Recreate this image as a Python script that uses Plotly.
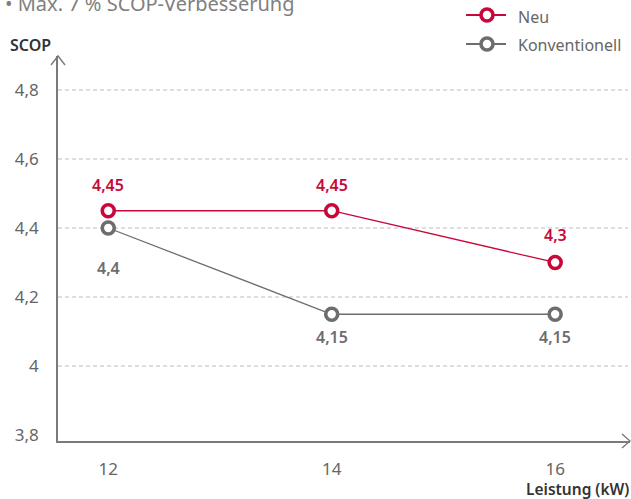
import plotly.graph_objects as go

# Leistung in kW and seasonal COP of both unit generations
leistung = [12, 14, 16]
scop_neu = [4.45, 4.45, 4.3]
scop_konv = [4.4, 4.15, 4.15]

y_tickvals = [3.8, 4.0, 4.2, 4.4, 4.6, 4.8]
y_ticktext = ["3,8", "4", "4,2", "4,4", "4,6", "4,8"]
x_tickvals = [12, 14, 16]
x_ticktext = ["12", "14", "16"]

series_names = ["Neu", "Konventionell"]

# vertical offset (px) of each value label relative to its marker
label_shift_neu = [26, 26, 27]
label_shift_konv = [-40, -23, -23]

RED = "#c8073b"
GRAY = "#6d6d6d"
AXIS = "#7a7a7a"
FONT = "Noto Sans"

W, H = 631, 499
L, R, T, B = 58, 1, 56, 58
PW, PH = W - L - R, H - T - B


def px_x(px):
    return (px - L) / PW


def px_y(py):
    return (H - B - py) / PH


def de(v):
    return f"{v:g}".replace(".", ",")


fig = go.Figure()

for name, vals, col in [(series_names[0], scop_neu, RED), (series_names[1], scop_konv, GRAY)]:
    fig.add_trace(go.Scatter(
        x=leistung, y=vals, name=name, mode="lines+markers",
        line=dict(color=col, width=1.3),
        marker=dict(symbol="circle", size=12, color="white",
                    line=dict(color=col, width=3.6)),
        showlegend=False,
    ))

annotations = []
for x, v, s in zip(leistung, scop_neu, label_shift_neu):
    annotations.append(dict(x=x, y=v, xref="x", yref="y", text=de(v),
                            showarrow=False, yshift=s,
                            font=dict(family=FONT, size=16, color=RED, weight=600)))
for x, v, s in zip(leistung, scop_konv, label_shift_konv):
    annotations.append(dict(x=x, y=v, xref="x", yref="y", text=de(v),
                            showarrow=False, yshift=s,
                            font=dict(family=FONT, size=16, color=GRAY, weight=600)))

# axis titles and heading
annotations.append(dict(x=px_x(30), y=px_y(45), xref="paper", yref="paper",
                        text="SCOP", showarrow=False, xanchor="center", yanchor="middle",
                        font=dict(family=FONT, size=16, color="#333333", weight=600)))
annotations.append(dict(x=px_x(630), y=px_y(488.5), xref="paper", yref="paper",
                        text="Leistung (kW)", showarrow=False, xanchor="right", yanchor="middle",
                        borderpad=0,
                        font=dict(family=FONT, size=15.5, color="#333333", weight=600)))
annotations.append(dict(x=px_x(3), y=px_y(4), xref="paper", yref="paper",
                        text="• Max. 7 % SCOP-Verbesserung", showarrow=False,
                        xanchor="left", yanchor="middle",
                        font=dict(family=FONT, size=20, color="#808080")))

shapes = []
# dashed horizontal grid
for v in y_tickvals[1:]:
    shapes.append(dict(type="line", xref="paper", yref="y", x0=0, x1=px_x(628),
                       y0=v, y1=v, layer="below",
                       line=dict(color="#bdbdbd", width=1.2, dash="4px,3px")))
# open chevrons at the axis ends
shapes.append(dict(type="path", xref="paper", yref="paper",
                   path=f"M {px_x(51)} {px_y(65)} L {px_x(58)} {px_y(56)} L {px_x(65)} {px_y(65)}",
                   line=dict(color=AXIS, width=1.4)))
shapes.append(dict(type="path", xref="paper", yref="paper",
                   path=f"M {px_x(622)} {px_y(434)} L {px_x(630)} {px_y(441)} L {px_x(622)} {px_y(448)}",
                   line=dict(color=AXIS, width=1.4)))

# legend: line with ring marker, then the series name
for (name, col, ly) in [(series_names[0], RED, 15), (series_names[1], GRAY, 44)]:
    shapes.append(dict(type="line", xref="paper", yref="paper",
                       x0=px_x(466), x1=px_x(506), y0=px_y(ly), y1=px_y(ly),
                       line=dict(color=col, width=2)))
    r = 6
    shapes.append(dict(type="circle", xref="paper", yref="paper",
                       x0=px_x(487 - r), x1=px_x(487 + r), y0=px_y(ly + r), y1=px_y(ly - r),
                       fillcolor="white", line=dict(color=col, width=3.6)))
    annotations.append(dict(x=px_x(516), y=px_y(ly + 1.5), xref="paper", yref="paper",
                            text=name, showarrow=False, xanchor="left", yanchor="middle",
                            font=dict(family=FONT, size=16, color="#666666")))

fig.update_layout(
    width=W, height=H,
    margin=dict(l=L, r=R, t=T, b=B, pad=0),
    paper_bgcolor="white", plot_bgcolor="white",
    font=dict(family=FONT, color="#666666"),
    showlegend=False,
    annotations=annotations,
    shapes=shapes,
    xaxis=dict(range=[11.55, 16.67], tickvals=x_tickvals, ticktext=x_ticktext,
               showgrid=False, zeroline=False, showline=True, linecolor=AXIS,
               linewidth=1.6, ticks="", ticklabelstandoff=12,
               tickfont=dict(family=FONT, size=17, color="#666666"), fixedrange=True),
    yaxis=dict(range=[3.7826, 4.8985], tickvals=y_tickvals, ticktext=y_ticktext,
               showgrid=False, zeroline=False, showline=True, linecolor=AXIS,
               linewidth=1.6, ticks="", ticklabelstandoff=14,
               tickfont=dict(family=FONT, size=17, color="#666666"), fixedrange=True),
)

fig.write_html("out.html")
